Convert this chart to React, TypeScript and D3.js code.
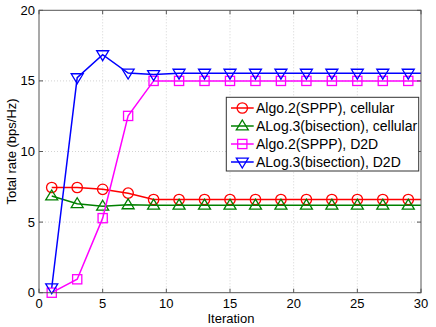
import React from "react";
import * as d3 from "d3";

const iterations = [1, 3, 5, 7, 9, 11, 13, 15, 17, 19, 21, 23, 25, 27, 29];
const algo2Cellular = [7.45, 7.45, 7.32, 7.05, 6.6, 6.6, 6.6, 6.6, 6.6, 6.6, 6.6, 6.6, 6.6, 6.6, 6.6];
const algo3Cellular = [6.85, 6.3, 6.12, 6.22, 6.2, 6.2, 6.2, 6.2, 6.2, 6.2, 6.2, 6.2, 6.2, 6.2, 6.2];
const algo2D2D = [0, 0.95, 5.28, 12.52, 15.0, 15.0, 15.0, 15.0, 15.0, 15.0, 15.0, 15.0, 15.0, 15.0, 15.0];
const algo3D2D = [0.35, 15.23, 16.86, 15.56, 15.45, 15.55, 15.55, 15.55, 15.55, 15.55, 15.55, 15.55, 15.55, 15.55, 15.55];
const xTicks = [0, 5, 10, 15, 20, 25, 30];
const yTicks = [0, 5, 10, 15, 20];
const seriesNames = [
  "Algo.2(SPPP), cellular",
  "ALog.3(bisection), cellular",
  "Algo.2(SPPP), D2D",
  "ALog.3(bisection), D2D",
];
const seriesColors = ["#ff0000", "#008000", "#ff00ff", "#0000ff"];
const seriesMarkers = ["circle", "triUp", "square", "triDown"];

const W = 436;
const H = 327;
const left = 39;
const right = 421;
const top = 10.3;
const bottom = 292.7;
const font = "'Liberation Sans', Arial, Helvetica, sans-serif";

function Marker({ type, cx, cy, color }: { type: string; cx: number; cy: number; color: string }) {
  const common = { fill: "none", stroke: color, strokeWidth: 1.3 };
  if (type === "circle") return <circle cx={cx} cy={cy} r={5.2} {...common} />;
  if (type === "square") return <rect x={cx - 4.6} y={cy - 4.6} width={9.2} height={9.2} {...common} />;
  if (type === "triUp") {
    const s = 6;
    return <path d={`M${cx},${cy - s} L${cx + s},${cy + s * 0.65} L${cx - s},${cy + s * 0.65} Z`} {...common} />;
  }
  const s = 6;
  return <path d={`M${cx},${cy + s} L${cx + s},${cy - s * 0.65} L${cx - s},${cy - s * 0.65} Z`} {...common} />;
}

export default function App() {
  const x = d3.scaleLinear().domain([0, 30]).range([left, right]);
  const y = d3.scaleLinear().domain([0, 20]).range([bottom, top]);
  const allSeries = [algo2Cellular, algo3Cellular, algo2D2D, algo3D2D];
  const line = d3
    .line<number>()
    .x((_, i) => x(iterations[i]))
    .y((d) => y(d));
  const lineExt = (vals: number[]) => line(vals) + ` L${x(30)},${y(vals[vals.length - 1])}`;

  const legX = 226.3;
  const legY = 97.3;
  const legW = 192.4;
  const legH = 73.7;

  return (
    <svg width={W} height={H} style={{ position: "absolute", left: 0, top: 0, background: "#fff" }}>
      <rect x={0} y={0} width={W} height={H} fill="#fff" />
      {xTicks.slice(1, -1).map((t) => (
        <line key={"gx" + t} x1={x(t)} x2={x(t)} y1={top} y2={bottom} stroke="#c8c8c8" strokeWidth={0.8} strokeDasharray="1,2" />
      ))}
      {yTicks.slice(1, -1).map((t) => (
        <line key={"gy" + t} x1={left} x2={right} y1={y(t)} y2={y(t)} stroke="#c8c8c8" strokeWidth={0.8} strokeDasharray="1,2" />
      ))}
      {allSeries.map((vals, si) => (
        <g key={si}>
          <path d={lineExt(vals)} fill="none" stroke={seriesColors[si]} strokeWidth={1.5} />
          {vals.map((v, i) => (
            <Marker key={i} type={seriesMarkers[si]} cx={x(iterations[i])} cy={y(v)} color={seriesColors[si]} />
          ))}
        </g>
      ))}
      <rect x={left} y={top} width={right - left} height={bottom - top} fill="none" stroke="#555" strokeWidth={1} />
      {xTicks.map((t) => (
        <g key={"tx" + t}>
          <line x1={x(t)} x2={x(t)} y1={bottom} y2={bottom - 4} stroke="#555" />
          <line x1={x(t)} x2={x(t)} y1={top} y2={top + 4} stroke="#555" />
          <text x={x(t)} y={bottom + 15.5} textAnchor="middle" fontFamily={font} fontSize={13} fill="#000">
            {t}
          </text>
        </g>
      ))}
      {yTicks.map((t) => (
        <g key={"ty" + t}>
          <line x1={left} x2={left + 4} y1={y(t)} y2={y(t)} stroke="#555" />
          <line x1={right} x2={right - 4} y1={y(t)} y2={y(t)} stroke="#555" />
          <text x={left - 4} y={y(t) + 4.5} textAnchor="end" fontFamily={font} fontSize={13} fill="#000">
            {t}
          </text>
        </g>
      ))}
      <text x={(left + right) / 2 + 1} y={323.3} textAnchor="middle" fontFamily={font} fontSize={13} fill="#000">
        Iteration
      </text>
      <text
        transform={`translate(16,${(top + bottom) / 2}) rotate(-90)`}
        textAnchor="middle"
        fontFamily={font}
        fontSize={13}
        fill="#000"
      >
        Total rate (bps/Hz)
      </text>
      <rect x={legX} y={legY} width={legW} height={legH} fill="#fff" stroke="#333" strokeWidth={1} />
      {seriesNames.map((name, i) => {
        const ly = legY + 10.7 + i * 18;
        return (
          <g key={name}>
            <line x1={231} x2={253.7} y1={ly} y2={ly} stroke={seriesColors[i]} strokeWidth={1.5} />
            <Marker type={seriesMarkers[i]} cx={242.3} cy={ly} color={seriesColors[i]} />
            <text x={256} y={ly + 5} fontFamily={font} fontSize={14} fill="#000">
              {name}
            </text>
          </g>
        );
      })}
    </svg>
  );
}
